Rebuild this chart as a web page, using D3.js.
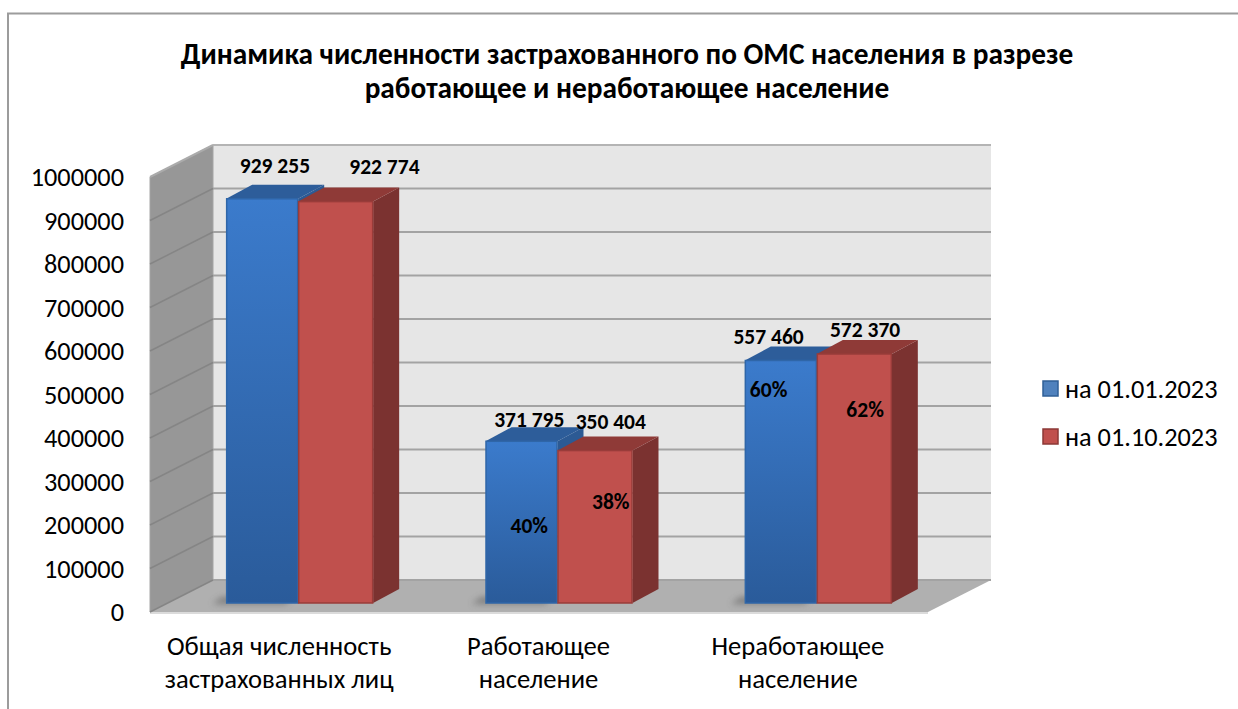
<!DOCTYPE html>
<html><head><meta charset="utf-8">
<script src="https://cdn.jsdelivr.net/npm/d3@7/dist/d3.min.js"></script>
<style>html,body{margin:0;background:#fff;overflow:hidden}svg{display:block;font-family:Carlito,Lato,"Open Sans",sans-serif}</style>
</head><body><svg id="c" width="1238" height="709"></svg>
<script>
const titleLines = ["Динамика численности застрахованного по ОМС населения в разрезе","работающее и неработающее население"];
const categories = ["Общая численность застрахованных лиц","Работающее население","Неработающее население"];
const categoryLines = [["Общая численность","застрахованных лиц"],["Работающее","население"],["Неработающее","население"]];
const seriesNames = ["на 01.01.2023","на 01.10.2023"];
const series1 = [929255,371795,557460];
const series2 = [922774,350404,572370];
const percent1 = [null,"40%","60%"];
const percent2 = [null,"38%","62%"];
const yTicks = [0,100000,200000,300000,400000,500000,600000,700000,800000,900000,1000000];

// hand-read label placement (offsets from the bar's front-top centre)
const valueLabelOffset = [[[12,-26],[48,-28]],[[7,-14],[15,-22]],[[-13,-17],[10,-17]]];
const pctLabelOffset = [[null,null],[[7,92],[15,58]],[[-13,36],[10,63]]];

const svg = d3.select("#c");
const defs = svg.append("defs");
const gr = defs.append("linearGradient").attr("id","blueG").attr("x1",0).attr("x2",0).attr("y1",0).attr("y2",1);
gr.append("stop").attr("offset",0).attr("stop-color","#3b7bcc");
gr.append("stop").attr("offset",1).attr("stop-color","#2a5b9a");
defs.append("filter").attr("id","blur").attr("x","-30%").attr("y","-200%").attr("width","160%").attr("height","500%")
  .append("feGaussianBlur").attr("stdDeviation",3);

const depthX = 63, depthY = 32;            // wall depth
const barFrontY = 9;                       // bar set-back from front of floor
const sideX = 26, sideY = 14;              // bar depth
const y = d3.scaleLinear().domain([0,1000000]).range([612,177]);
const x0 = d3.scaleBand().domain(categories).range([150,928]);
const xBar = d3.scaleBand().domain(categories).range([170,948]);
const inner = d3.scaleOrdinal().domain([0,1]).range([0,72]);   // blue starts at 0, red at 72
const innerEnd = d3.scaleOrdinal().domain([0,1]).range([72,147]);
const poly = p => p.map(q=>q.join(",")).join(" ");
const xL = 150, xR = 928;

svg.append("path").attr("d","M8,709V13.5H1238").attr("fill","none").attr("stroke","#9c9c9c").attr("stroke-width",2);

// title
svg.append("g").selectAll("text").data(titleLines).join("text")
  .attr("x",627).attr("y",(d,i)=>64+i*34).attr("text-anchor","middle")
  .attr("font-size",29.3).attr("font-weight",700).attr("fill","#000").text(d=>d);

// walls and floor
svg.append("polygon").attr("points",poly([[xL+depthX,y(1000000)-depthY],[xR+depthX,y(1000000)-depthY],[xR+depthX,y(0)-depthY],[xL+depthX,y(0)-depthY]])).attr("fill","#e6e6e6");
svg.append("polygon").attr("points",poly([[xL,y(1000000)],[xL+depthX,y(1000000)-depthY],[xL+depthX,y(0)-depthY],[xL,y(0)]])).attr("fill","#979797").attr("stroke","#a4a4a4").attr("stroke-width",1);
svg.append("polygon").attr("points",poly([[xL,y(0)],[xL+depthX,y(0)-depthY],[xR+depthX,y(0)-depthY],[xR,y(0)]])).attr("fill","#b0b0b0");
svg.append("line").attr("x1",xL).attr("x2",xR).attr("y1",y(0)+1).attr("y2",y(0)+1).attr("stroke","#cfcfcf").attr("stroke-width",1.5);

// gridlines
svg.append("g").selectAll("line").data(yTicks).join("line")
  .attr("x1",xL+depthX).attr("x2",xR+depthX).attr("y1",d=>y(d)-depthY).attr("y2",d=>y(d)-depthY)
  .attr("stroke",d=>d===1000000?"#b4b4b4":"#a3a3a3").attr("stroke-width",2);
svg.append("g").selectAll("line").data(yTicks.slice(0,-1)).join("line")
  .attr("x1",xL).attr("x2",xL+depthX).attr("y1",d=>y(d)).attr("y2",d=>y(d)-depthY)
  .attr("stroke","#858585").attr("stroke-width",1.5);
svg.append("line").attr("x1",xL).attr("x2",xL+depthX).attr("y1",y(1000000)).attr("y2",y(1000000)-depthY).attr("stroke","#ababab").attr("stroke-width",2);

// y axis
const ax = svg.append("g").attr("transform","translate(124,0.5)")
  .call(d3.axisLeft(y).tickValues(yTicks).tickFormat(d=>String(d)).tickSize(0).tickPadding(0));
ax.attr("font-family",null).attr("font-size",null);
ax.select(".domain").remove();
ax.selectAll("text").attr("font-size",26.3).attr("fill","#000");

// bars
const palette = [
 {front:"url(#blueG)",side:"#2c5a94",top:"#2d5d9a",stroke:"#2f66a8"},
 {front:"#c0504d",side:"#7b3230",top:"#8f3a37",stroke:"#993c3a"}];
const rows = categories.map((c,i)=>({c,i,vals:[series1[i],series2[i]]}));
const base = y(0)-barFrontY;
const yBar = v => y(v)-barFrontY;
const groups = svg.append("g").selectAll("g").data(rows).join("g");
groups.append("polygon").attr("points",d=>{const l=xBar(d.c)+xBar.bandwidth()/2-73.5;
  return poly([[l-14,base+1],[l+60,base+1],[l+66,base-6],[l-4,base-6]]);})
  .attr("fill","#555").attr("opacity",.55).attr("filter","url(#blur)");
groups.each(function(d){
  const g=d3.select(this), left=xBar(d.c)+xBar.bandwidth()/2-73.5;
  d.vals.forEach((v,k)=>{
    const a=left+inner(k), b=left+innerEnd(k), t=yBar(v), p=palette[k];
    g.append("polygon").attr("points",poly([[b,t],[b+sideX,t-sideY],[b+sideX,base-sideY],[b,base]])).attr("fill",p.side);
    g.append("polygon").attr("points",poly([[a,t],[a+sideX,t-sideY],[b+sideX,t-sideY],[b,t]])).attr("fill",p.top);
    g.append("rect").attr("x",a+.5).attr("y",t).attr("width",b-a-1).attr("height",base-t)
      .attr("fill",p.front).attr("stroke",p.stroke).attr("stroke-width",1.5);
  });
});

// value labels
const fmt = v => d3.format(",")(v).replace(/,/g," ");
const midX = [36.75,110.25];
groups.each(function(d){
  const g=d3.select(this), left=xBar(d.c)+xBar.bandwidth()/2-73.5;
  d.vals.forEach((v,k)=>{
    const cx=left+midX[k], o=valueLabelOffset[d.i][k];
    g.append("text").attr("x",cx+o[0]).attr("y",yBar(v)+o[1]).attr("text-anchor","middle")
      .attr("font-size",21.5).attr("font-weight",700).attr("fill","#000").text(fmt(v));
    const pct=(k?percent2:percent1)[d.i];
    if(pct){
      const q=pctLabelOffset[d.i][k];
      g.append("text").attr("x",cx+q[0]).attr("y",yBar(v)+q[1]).attr("text-anchor","middle")
        .attr("font-size",21.5).attr("font-weight",700).attr("fill","#000").text(pct);
    }
  });
});

// category labels
const cat = svg.append("g").selectAll("text").data(rows).join("text")
  .attr("text-anchor","middle").attr("font-size",26.6).attr("fill","#000");
cat.each(function(d){
  d3.select(this).selectAll("tspan").data(categoryLines[d.i]).join("tspan")
    .attr("x",x0(d.c)+x0.bandwidth()/2-0.5).attr("y",(t,j)=>655+j*33).text(t=>t);
});

// legend
const leg = svg.append("g").selectAll("g").data(seriesNames).join("g")
  .attr("transform",(d,i)=>`translate(1043,${381+i*48})`);
leg.append("rect").attr("width",15).attr("height",15)
  .attr("fill",(d,i)=>i?"#c0504d":"#4f81bd").attr("stroke",(d,i)=>i?"#8c3836":"#2f5f97").attr("stroke-width",1.5);
leg.append("text").attr("x",22).attr("y",17).attr("font-size",26.3).attr("fill","#000").text(d=>d);
</script></body></html>
